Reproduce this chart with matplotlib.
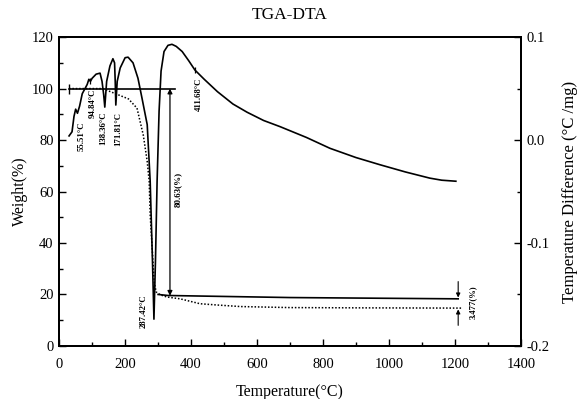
import matplotlib
matplotlib.use("Agg")
import matplotlib.pyplot as plt
import numpy as np
from matplotlib.ticker import MultipleLocator, FormatStrFormatter

plt.rcParams['font.family'] = ['Liberation Serif', 'DejaVu Serif']
plt.rcParams['axes.unicode_minus'] = False

# DTA signal (temperature, degC/mg)
dta_temp = [30, 39, 45, 50, 55.5, 62, 70, 85, 90, 94.8, 100, 112, 124, 130, 135,
            138.4, 144, 154, 163, 168, 170, 171.8, 176, 185, 200, 209, 224, 239,
            251, 267, 276, 283, 287.4, 292, 297, 303, 309, 318, 330, 342, 355,
            373, 393, 411.7, 440, 480, 527, 570, 620, 670, 750, 821, 900, 973,
            1050, 1124, 1160, 1203]
dta_val = [0.004, 0.008, 0.023, 0.030, 0.026, 0.033, 0.045, 0.054, 0.059, 0.057,
           0.060, 0.064, 0.065, 0.057, 0.044, 0.032, 0.057, 0.072, 0.079, 0.075,
           0.057, 0.034, 0.057, 0.070, 0.080, 0.0805, 0.075, 0.060, 0.041, 0.015,
           -0.040, -0.118, -0.174, -0.118, -0.040, 0.028, 0.067, 0.086, 0.092,
           0.093, 0.091, 0.086, 0.077, 0.068, 0.059, 0.047, 0.035, 0.027, 0.019,
           0.013, 0.0025, -0.008, -0.017, -0.024, -0.031, -0.037, -0.039, -0.040]

# TGA weight curve (dotted)
tga_temp = [30, 130, 140, 171, 210, 236, 255, 267, 273, 276, 285, 288, 294, 306,
            327, 367, 427, 479, 550, 700, 900, 1220]
tga_val = [100, 100, 99.6, 98, 96, 92.4, 82, 71.7, 64, 51, 31.6, 25, 21, 19.9,
           19, 18.3, 16.4, 15.9, 15.3, 14.9, 14.8, 14.7]

# residue baseline (solid)
base_temp = [300, 330, 420, 700, 1210]
base_val = [20, 19.6, 19.4, 18.8, 18.3]

# peak labels
peak_temp = [55.51, 94.84, 138.36, 171.81, 287.42, 411.68]
peak_lab_xy = [(67, 0.004), (103, 0.036), (133, 0.011), (179, 0.011), (255, -0.166), (424, 0.044)]

loss_main = 80.63
loss_rest = 3.477

fig = plt.figure(figsize=(5.8, 3.99), dpi=100)
ax = fig.add_axes([0.102, 0.133, 0.796, 0.774])
ax2 = ax.twinx()

lw = 1.2
ax.plot(tga_temp, tga_val, color='black', lw=1.1, linestyle=(0, (1, 1.2)))
ax.plot(base_temp, base_val, color='black', lw=lw)
ax.plot([30, 352], [100, 100], color='black', lw=lw)
ax.plot([30], [100], marker='|', color='black', ms=7, mew=1)

# total loss arrow
ax.annotate('', xy=(336, 19.5), xytext=(336, 100),
            arrowprops=dict(arrowstyle='<|-|>', color='black', lw=0.9,
                            mutation_scale=7, shrinkA=0, shrinkB=0))
ax.text(360, 61, '%.2f(%%)' % loss_main, rotation=90, fontsize=6.5,
        fontweight='bold', ha='center', va='center')

# residual difference arrows
ax.annotate('', xy=(1210, 18.8), xytext=(1210, 25),
            arrowprops=dict(arrowstyle='-|>', color='black', lw=0.8,
                            mutation_scale=6, shrinkA=0, shrinkB=0))
ax.annotate('', xy=(1210, 14.2), xytext=(1210, 8),
            arrowprops=dict(arrowstyle='-|>', color='black', lw=0.8,
                            mutation_scale=6, shrinkA=0, shrinkB=0))
ax.text(1254, 17, '%.3f(%%)' % loss_rest, rotation=90, fontsize=6.2,
        fontweight='bold', ha='center', va='center')

ax2.plot(dta_temp, dta_val, color='black', lw=lw)
for t in (94.84, 411.68):
    ax2.plot([t], [np.interp(t, dta_temp, dta_val)], marker='|', color='black',
             ms=5, mew=0.9)
for t, (lx, ly) in zip(peak_temp, peak_lab_xy):
    ax2.text(lx, ly, '%.2f°C' % t, rotation=90, fontsize=6.3,
             fontweight='bold', ha='center', va='center')

ax.set_xlim(0, 1400)
ax.set_ylim(0, 120)
ax2.set_ylim(-0.2, 0.1)

ax.xaxis.set_major_locator(MultipleLocator(200))
ax.xaxis.set_minor_locator(MultipleLocator(100))
ax.yaxis.set_major_locator(MultipleLocator(20))
ax.yaxis.set_minor_locator(MultipleLocator(10))
ax2.yaxis.set_major_locator(MultipleLocator(0.1))
ax2.yaxis.set_minor_locator(MultipleLocator(0.05))
ax2.yaxis.set_major_formatter(FormatStrFormatter('%.1f'))

for a in (ax, ax2):
    a.tick_params(which='both', direction='in', labelsize=10.5, width=1)
    a.tick_params(which='major', length=5)
    a.tick_params(which='minor', length=3)
    for s in a.spines.values():
        s.set_linewidth(1.4)
ax.tick_params(axis='x', pad=9)
ax.tick_params(axis='y', pad=4)
ax2.tick_params(axis='y', pad=4)

ax.set_title('TGA-DTA', fontsize=12.5, pad=13)
ax.set_xlabel('Temperature(°C)', fontsize=11.5, labelpad=9)
ax.set_ylabel('Weight(%)', fontsize=11.5, labelpad=3)
ax2.set_ylabel('Temperature Difference (°C /mg)', fontsize=12, labelpad=9)

fig.savefig('out.png', dpi=100)
